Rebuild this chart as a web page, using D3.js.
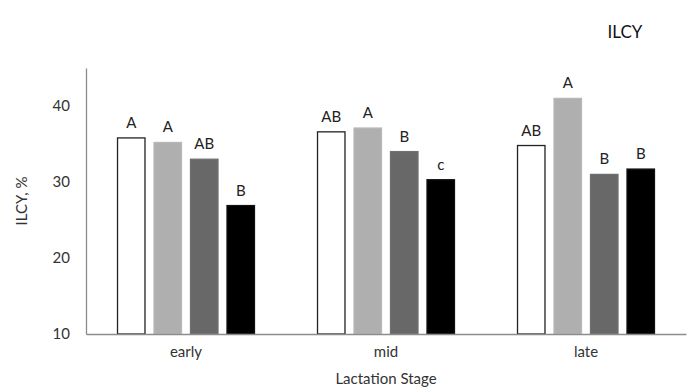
<!DOCTYPE html>
<html>
<head>
<meta charset="utf-8">
<script src="https://cdn.jsdelivr.net/npm/d3@7"></script>
<style>
body { margin: 0; background: #fff; }
text { font-family: Lato, "Open Sans", sans-serif; }
</style>
</head>
<body>
<svg id="chart" width="688" height="392"></svg>
<script>
var stages = ['early', 'mid', 'late'];
var groups = ['g1', 'g2', 'g3', 'g4'];
var g1_values = [35.8, 36.6, 34.8];
var g2_values = [35.2, 37.1, 41.0];
var g3_values = [33.0, 34.0, 31.0];
var g4_values = [26.9, 30.3, 31.7];
var g1_letters = ['A', 'AB', 'AB'];
var g2_letters = ['A', 'A', 'A'];
var g3_letters = ['AB', 'B', 'B'];
var g4_letters = ['B', 'c', 'B'];
var y_ticks = [10, 20, 30, 40];

var fills = {g1: '#ffffff', g2: '#afafaf', g3: '#686868', g4: '#000000'};
var strokes = {g1: '#222222', g2: '#b8b8b8', g3: '#707070', g4: '#111111'};

var svg = d3.select('#chart');
var plot_left = 86, plot_right = 686, plot_top = 68, plot_bottom = 334;

var all_values = [g1_values, g2_values, g3_values, g4_values];
var all_letters = [g1_letters, g2_letters, g3_letters, g4_letters];
var bar_data = [];
stages.forEach(function(s, i) {
	groups.forEach(function(g, j) {
		bar_data.push({stage: s, group: g, value: all_values[j][i], letter: all_letters[j][i]});
	});
});

var x0 = d3.scaleBand().domain(stages).range([plot_left, plot_right]).padding(0);
var x1 = d3.scaleBand().domain(groups).range([0, x0.bandwidth()]).paddingInner(0.22).paddingOuter(0.85);
var y = d3.scaleLinear().domain([10, 45]).range([plot_bottom, plot_top]);

// bars
svg.append('g').selectAll('rect').data(bar_data).enter().append('rect')
	.attr('x', d => x0(d.stage) + x1(d.group) + 0.5)
	.attr('y', d => y(d.value))
	.attr('width', x1.bandwidth() - 1)
	.attr('height', d => y(10) - y(d.value))
	.attr('fill', d => fills[d.group])
	.attr('stroke', d => strokes[d.group])
	.attr('stroke-width', 1.3);

// significance letters
svg.append('g').selectAll('text').data(bar_data).enter().append('text')
	.attr('x', d => x0(d.stage) + x1(d.group) + x1.bandwidth() / 2)
	.attr('y', d => y(d.value) - 10)
	.attr('text-anchor', 'middle')
	.attr('font-size', 15)
	.attr('fill', '#222')
	.text(d => d.letter);

// y axis
var yAxis = svg.append('g').attr('transform', 'translate(' + plot_left + ',0)')
	.call(d3.axisLeft(y).tickValues(y_ticks).tickSize(0).tickPadding(16));
yAxis.select('.domain').attr('stroke', '#8c8c8c').attr('stroke-width', 1.3);
yAxis.selectAll('text').attr('font-size', 15).attr('fill', '#333')
	.style('font-family', 'Lato, "Open Sans", sans-serif');

// x axis
var xAxis = svg.append('g').attr('transform', 'translate(0,' + plot_bottom + ')')
	.call(d3.axisBottom(x0).tickSize(0).tickPadding(12));
xAxis.select('.domain').attr('stroke', '#8c8c8c').attr('stroke-width', 1.5);
xAxis.selectAll('text').attr('font-size', 15).attr('fill', '#333')
	.style('font-family', 'Lato, "Open Sans", sans-serif');

// titles
svg.append('text')
	.attr('x', 386).attr('y', 384)
	.attr('text-anchor', 'middle').attr('font-size', 15).attr('fill', '#333')
	.text('Lactation Stage');

svg.append('text')
	.attr('transform', 'translate(27,201) rotate(-90)')
	.attr('text-anchor', 'middle').attr('font-size', 15).attr('fill', '#333')
	.text('ILCY, %');

svg.append('text')
	.attr('x', 625).attr('y', 38)
	.attr('text-anchor', 'middle').attr('font-size', 17).attr('fill', '#111')
	.text('ILCY');
</script>
</body>
</html>
